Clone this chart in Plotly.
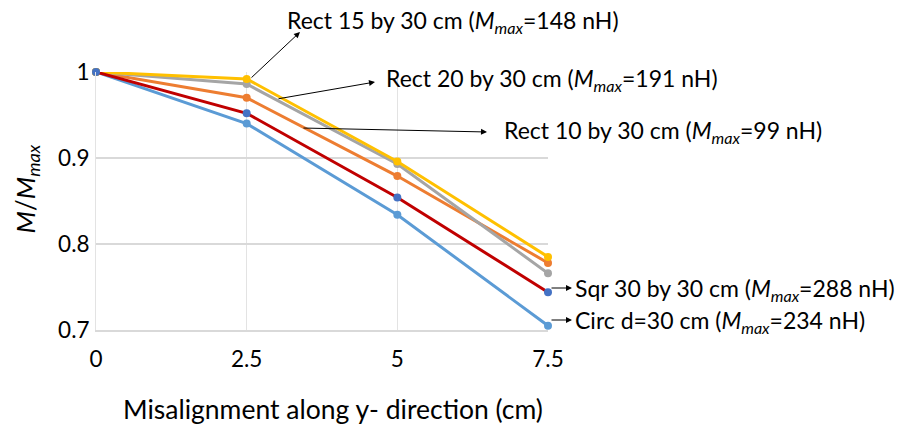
import plotly.graph_objects as go

x_vals = [0, 2.5, 5, 7.5]
x_ticks = [0, 2.5, 5, 7.5]
x_tick_labels = ["0", "2.5", "5", "7.5"]
y_ticks = [0.7, 0.8, 0.9, 1.0]
y_tick_labels = ["0.7", "0.8", "0.9", "1"]

circ_d30 = [1.0, 0.940, 0.834, 0.705]
rect_10x30 = [1.0, 0.970, 0.879, 0.778]
rect_20x30 = [1.0, 0.986, 0.893, 0.766]
rect_15x30 = [1.0, 0.992, 0.896, 0.785]
sqr_30x30 = [1.0, 0.952, 0.854, 0.744]

series = [
    ("Circ d=30 cm", circ_d30, "#5B9BD5", "#5B9BD5"),
    ("Rect 10 by 30 cm", rect_10x30, "#ED7D31", "#ED7D31"),
    ("Rect 20 by 30 cm", rect_20x30, "#A5A5A5", "#A5A5A5"),
    ("Rect 15 by 30 cm", rect_15x30, "#FFC000", "#FFC000"),
    ("Sqr 30 by 30 cm", sqr_30x30, "#C00000", "#4472C4"),
]

FONT = "Lato"

# page is offset by the 8px body margin; plot area spans page x 96..548, y 72..330
W, H = 895, 422
ML, MR, MT, MB = 88, 355, 64, 100
PX0, PX1, PY0, PY1 = 96, 548, 72, 330


def px(x):
    return (x - PX0) / (PX1 - PX0)


def py(y):
    return (PY1 - y) / (PY1 - PY0)


fig = go.Figure()
for name, vals, lc, mc in series:
    fig.add_trace(go.Scatter(
        x=x_vals, y=vals, mode="lines+markers", name=name,
        line=dict(color=lc, width=3),
        marker=dict(color=mc, size=8),
        cliponaxis=False,
    ))


def mm(v):
    return "(<i>M</i><sub><i>max</i></sub>=" + v + " nH)"


# (text, text_left_px, text_mid_px, tail_x, tail_y, head_x, head_y) in page pixels
labels = [
    ("Rect 15 by 30 cm " + mm("148"), 286, 21, 250, 79, 300, 32),
    ("Rect 20 by 30 cm " + mm("191"), 385, 79, 277, 99, 375, 82),
    ("Rect 10 by 30 cm " + mm("99"), 503, 131, 302, 128, 487, 132),
    ("Sqr 30 by 30 cm " + mm("288"), 574, 289, 550, 288, 572, 288),
    ("Circ d=30 cm " + mm("234"), 574, 321, 550, 320, 572, 320),
]

annotations = []
for text, tx, ty, tlx, tly, hx, hy in labels:
    annotations.append(dict(
        x=px(hx), y=py(hy), xref="paper", yref="paper",
        ax=tlx - hx, ay=tly - hy, axref="pixel", ayref="pixel",
        text="", showarrow=True, arrowhead=2, arrowsize=1.2, arrowwidth=1,
        arrowcolor="black", standoff=0, startstandoff=0,
    ))
    annotations.append(dict(
        x=px(tx), y=py(ty), xref="paper", yref="paper", text=text,
        showarrow=False, xanchor="left", yanchor="middle", borderpad=0,
        font=dict(family=FONT, size=23, color="black"),
    ))

annotations.append(dict(
    x=px(333), y=py(409), xref="paper", yref="paper",
    text="Misalignment along y- direction (cm)", showarrow=False,
    xanchor="center", yanchor="middle",
    font=dict(family=FONT, size=26.5, color="black"),
))
annotations.append(dict(
    x=px(25.5), y=py(189), xref="paper", yref="paper",
    text="<i>M</i>/<i>M</i><sub><i>max</i></sub>", showarrow=False,
    textangle=-90, xanchor="center", yanchor="middle",
    font=dict(family=FONT, size=26, color="black"),
))

fig.update_layout(
    width=W, height=H,
    margin=dict(l=ML, r=MR, t=MT, b=MB, autoexpand=False),
    paper_bgcolor="white", plot_bgcolor="white",
    showlegend=False,
    annotations=annotations,
    xaxis=dict(
        range=[0, 7.5], tickvals=x_ticks, ticktext=x_tick_labels,
        showgrid=True, gridcolor="#E3E3E3", gridwidth=1,
        showline=True, linecolor="#D9D9D9", linewidth=1.5,
        zeroline=False, ticks="", ticklabelstandoff=8,
        tickfont=dict(family=FONT, size=22.5, color="black"),
    ),
    yaxis=dict(
        range=[0.7, 1.0], tickvals=y_ticks, ticktext=y_tick_labels,
        showgrid=True, gridcolor="#D9D9D9", gridwidth=1.5,
        showline=True, linecolor="#E3E3E3", linewidth=1,
        zeroline=False, ticks="", ticklabelstandoff=1,
        tickfont=dict(family=FONT, size=22.5, color="black"),
    ),
)

fig.write_html("out.html")
